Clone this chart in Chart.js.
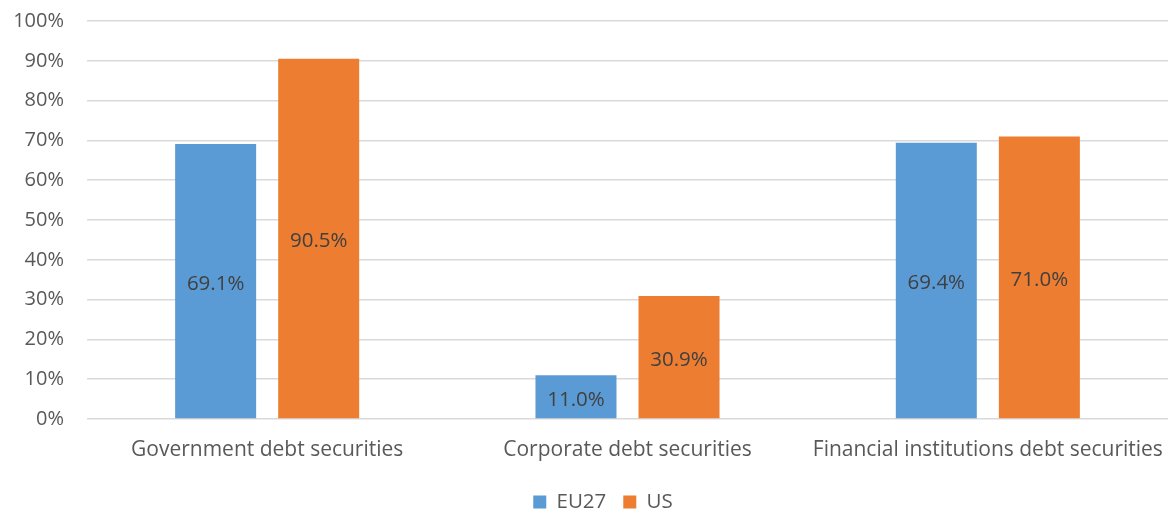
<!DOCTYPE html>
<html>
<head>
<meta charset="utf-8">
<script src="https://cdn.jsdelivr.net/npm/chart.js@4/dist/chart.umd.min.js"></script>
<style>
html,body{margin:0;padding:0;background:#fff;}
#wrap{width:1168px;height:510px;position:relative;overflow:hidden;}
</style>
</head>
<body>
<div id="wrap"><canvas id="c" width="1168" height="510"></canvas></div>
<script>
const categories = ["Government debt securities", "Corporate debt securities", "Financial institutions debt securities"];
const seriesNames = ["EU27", "US"];
const eu27Values = [69.1, 11.0, 69.4];
const usValues = [90.5, 30.9, 71.0];
const yTicks = [0, 10, 20, 30, 40, 50, 60, 70, 80, 90, 100];

const FONT = "'Open Sans', sans-serif";

const barLabels = {
  id: 'barLabels',
  afterDatasetsDraw(chart) {
    const ctx = chart.ctx;
    ctx.save();
    ctx.font = '20.5px ' + FONT;
    ctx.fillStyle = '#404040';
    ctx.textAlign = 'center';
    ctx.textBaseline = 'middle';
    chart.data.datasets.forEach((ds, i) => {
      const meta = chart.getDatasetMeta(i);
      meta.data.forEach((bar, j) => {
        const y = (bar.y + bar.base) / 2 + 3;
        ctx.fillText(ds.data[j].toFixed(1) + '%', bar.x, y);
      });
    });
    ctx.restore();
  }
};

const legendShift = {
  id: 'legendShift',
  afterLayout(chart) {
    const lg = chart.legend;
    if (lg) { lg.left += 19; lg.right += 19; }
  }
};

new Chart(document.getElementById('c'), {
  type: 'bar',
  data: {
    labels: categories,
    datasets: [
      { label: seriesNames[0], data: eu27Values, backgroundColor: '#5B9BD5', categoryPercentage: 0.572, barPercentage: 0.786 },
      { label: seriesNames[1], data: usValues, backgroundColor: '#ED7D31', categoryPercentage: 0.572, barPercentage: 0.786 }
    ]
  },
  options: {
    responsive: false,
    animation: false,
    devicePixelRatio: 1,
    layout: { padding: { left: 0, right: 0, top: 21, bottom: 0 } },
    plugins: {
      legend: {
        position: 'bottom',
        maxHeight: 35.25,
        labels: {
          boxWidth: 13, boxHeight: 13, padding: 17,
          color: '#595959',
          font: { family: FONT, size: 20.5 }
        }
      },
      tooltip: { enabled: false }
    },
    scales: {
      x: {
        grid: { display: false, tickLength: 15 },
        border: { display: false },
        ticks: { color: '#595959', font: { family: FONT, size: 21 }, padding: 3, maxRotation: 0, autoSkip: false },
        afterFit(axis) { axis.height = 55.75; }
      },
      y: {
        min: 0, max: 100,
        afterBuildTicks(axis) { axis.ticks = yTicks.map(v => ({ value: v })); },
        grid: { color: '#D9D9D9', lineWidth: 1.5, drawTicks: true, tickLength: 23, tickColor: 'rgba(0,0,0,0)' },
        border: { display: false },
        ticks: { color: '#595959', font: { family: FONT, size: 20 }, padding: 0, callback: v => v + '%' },
        afterFit(axis) { axis.width = 87; }
      }
    }
  },
  plugins: [barLabels, legendShift]
});
</script>
</body>
</html>
